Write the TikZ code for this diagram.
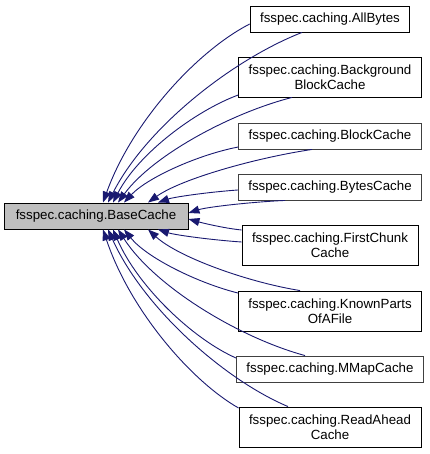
\documentclass[tikz,border=0pt]{standalone}
\usepackage{fontspec}
\setmainfont{Liberation Sans}
\usetikzlibrary{arrows.meta}
\definecolor{edgeblue}{HTML}{191970}
\definecolor{basefill}{HTML}{BFBFBF}
\definecolor{darkframe}{HTML}{404040}
\begin{document}
\begin{tikzpicture}[x=1pt,y=-1pt,
  cls/.style={draw=black, fill=white, line width=0.9pt, inner xsep=10pt, inner ysep=2pt,
    align=center, font=\fontsize{13.3}{15.5}\selectfont, minimum height=26pt},
  twoline/.style={minimum height=40pt},
  grayframe/.style={draw=darkframe},
  basecls/.style={cls, fill=basefill, minimum width=184pt},
  edge/.style={draw=edgeblue, line width=0.9pt, -{Triangle[length=11pt,width=8pt]}}]
\useasboundingbox (0,0) rectangle (429,454);

\node[basecls] (base) at (96,216) {fsspec.caching.BaseCache};

\node[cls] (allbytes) at (330,19) {fsspec.caching.AllBytes};
\node[cls, twoline] (background) at (330,77) {fsspec.caching.Background\\BlockCache};
\node[cls, grayframe] (blockcache) at (330,136) {fsspec.caching.BlockCache};
\node[cls, grayframe] (bytescache) at (330,187) {fsspec.caching.BytesCache};
\node[cls, twoline] (firstchunk) at (330,245) {fsspec.caching.FirstChunk\\Cache};
\node[cls, twoline] (knownparts) at (330,311) {fsspec.caching.KnownParts\\OfAFile};
\node[cls, grayframe] (mmapcache) at (330,369) {fsspec.caching.MMapCache};
\node[cls, twoline] (readahead) at (330,427) {fsspec.caching.ReadAhead\\Cache};

% upper group -> top / right of base
\draw[edge] ([yshift=-5pt]allbytes.west) .. controls (197,51) and (132,122) .. ([xshift=7pt]base.north);
\draw[edge] ([xshift=-28pt]allbytes.south) .. controls (234,59) and (147,126) .. ([xshift=12pt]base.north);
\draw[edge] ([yshift=-18pt]background.west) .. controls (195,111) and (138,154) .. ([xshift=17pt]base.north);
\draw[edge] ([xshift=-38pt]background.south) .. controls (231,113) and (153,155) .. ([xshift=22pt]base.north);
\draw[edge] ([yshift=-11pt]blockcache.west) .. controls (197,155) and (147,178) .. ([xshift=28pt]base.north);
\draw[edge] ([xshift=-18pt]blockcache.south) .. controls (255,158) and (181,179) .. ([xshift=52pt]base.north);
\draw[edge] ([yshift=-3pt]bytescache.west) .. controls (209,192) and (174,197) .. ([xshift=62pt]base.north);
\draw[edge] ([xshift=-45pt]bytescache.south) .. controls (251,202) and (207,207) .. ([yshift=3pt]base.east);

% lower group -> right / bottom of base
\draw[edge] ([yshift=15pt]firstchunk.west) .. controls (222,228) and (199,222) .. ([yshift=-3pt]base.east);
\draw[edge] ([yshift=3pt]firstchunk.west) .. controls (212,240) and (175,235) .. ([xshift=62pt]base.south);
\draw[edge] ([xshift=-30pt]knownparts.north) .. controls (247,282) and (178,257) .. ([xshift=52pt]base.south);
\draw[edge] ([yshift=18pt]knownparts.west) .. controls (198,283) and (147,258) .. ([xshift=28pt]base.south);
\draw[edge] ([xshift=-25pt]mmapcache.north) .. controls (240,338) and (155,287) .. ([xshift=22pt]base.south);
\draw[edge] ([yshift=11pt]mmapcache.west) .. controls (193,339) and (138,287) .. ([xshift=17pt]base.south);
\draw[edge] ([xshift=-42pt]readahead.north) .. controls (225,380) and (144,309) .. ([xshift=12pt]base.south);
\draw[edge] ([yshift=19pt]readahead.west) .. controls (191,381) and (130,310) .. ([xshift=7pt]base.south);
\end{tikzpicture}
\end{document}
